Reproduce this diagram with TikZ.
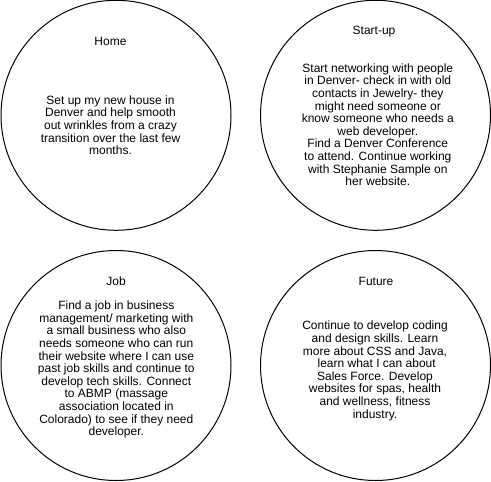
\documentclass[tikz,border=0pt]{standalone}
\usepackage{fontspec}
\setmainfont{Liberation Sans}
\begin{document}
\begin{tikzpicture}[x=0.75pt,y=-0.75pt,
  bubble/.style={circle,draw=black,line width=0.75pt,minimum size=172.5pt,inner sep=0pt},
  title/.style={inner sep=0pt,font=\fontsize{9}{9.45}\selectfont},
  body/.style={inner sep=0pt,align=center,font=\fontsize{9}{9.45}\selectfont}]
\useasboundingbox (0,0) rectangle (491,481);
% circles
\node[bubble] (home) at (116,115.3) {};
\node[bubble] (startup) at (375.5,115.3) {};
\node[bubble] (job) at (116,365.5) {};
\node[bubble] (future) at (375.5,365.5) {};
% titles
\node[title] (hometitle) at (110.5,41) {Home};
\node[title] (startuptitle) at (374,31.7) {Start-up};
\node[title] (jobtitle) at (116,281) {Job};
\node[title] (futuretitle) at (376,281.7) {Future};
% bodies
\node[body] (homebody) at (110.5,125.2) {Set up my new house in\\Denver and help smooth\\out wrinkles from a crazy\\transition over the last few\\months.};
\node[body] (startupbody) at (377.8,124.7) {Start networking with people\\in Denver- check in with old\\contacts in Jewelry- they\\might need someone or\\know someone who needs a\\web developer.\\Find a Denver Conference\\to attend. Continue working\\with Stephanie Sample on\\her website.};
\node[body] (jobbody) at (116.3,369.5) {Find a job in business\\management/ marketing with\\a small business who also\\needs someone who can run\\their website where I can use\\past job skills and continue to\\develop tech skills. Connect\\to ABMP (massage\\association located in\\Colorado) to see if they need\\developer.};
\node[body] (futurebody) at (375,370.8) {Continue to develop coding\\and design skills. Learn\\more about CSS and Java,\\\mbox{}\ learn what I can about\\Sales Force. Develop\\websites for spas, health\\and wellness, fitness\\industry.};
\end{tikzpicture}
\end{document}
